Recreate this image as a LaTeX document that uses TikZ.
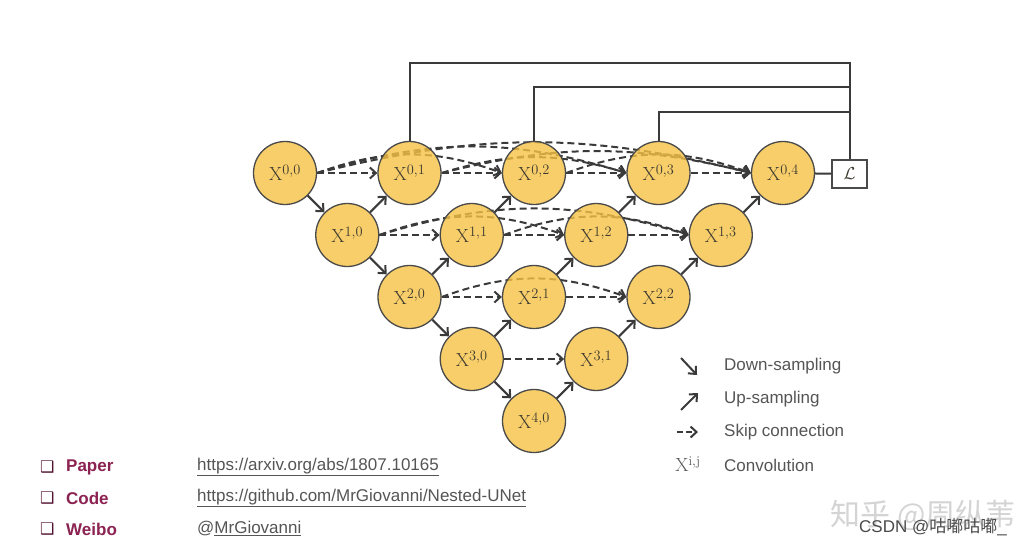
\documentclass[tikz,border=0pt]{standalone}
\usepackage{fontspec}
\newfontfamily\arial{Liberation Sans}
\newfontfamily\cjk{Noto Sans CJK SC}
\newfontfamily\dejavu{DejaVu Sans}
\usetikzlibrary{arrows.meta}
\pgfdeclarelayer{bg}
\pgfsetlayers{bg,main}
\definecolor{nodefill}{HTML}{F6C244}
\definecolor{nodeborder}{HTML}{4A4A4A}
\definecolor{linec}{HTML}{3A3A3A}
\definecolor{labelc}{HTML}{3E3A30}
\definecolor{legc}{HTML}{555555}
\definecolor{maroon}{HTML}{8B2252}
\definecolor{wmlight}{HTML}{D4D4D4}
\definecolor{wmdark}{HTML}{4A4A4A}
\tikzset{
  conv/.style={circle, draw=nodeborder, line width=1.3pt, fill=nodefill, fill opacity=0.8,
    text opacity=1, minimum size=63pt, inner sep=0pt, text=labelc, font=\fontsize{19}{21}\selectfont},
  arr/.style={draw=linec, line width=2pt, -{Straight Barb[length=6pt,width=11pt]}},
  skipc/.style={arr, dash pattern=on 7pt off 4pt},
  plain/.style={draw=linec, line width=2pt},
  lossbox/.style={draw=nodeborder, fill=white, line width=1.3pt, minimum width=35pt, minimum height=28pt, inner sep=0pt, font=\fontsize{17}{19}\selectfont, text=labelc},
  leg/.style={anchor=west, inner sep=0pt, text=legc, font=\arial\fontsize{17}{20}\selectfont},
  lbl/.style={anchor=west, inner sep=0pt, text=maroon, font=\arial\bfseries\fontsize{17}{20}\selectfont},
  url/.style={anchor=west, inner sep=0pt, text=legc, font=\arial\fontsize{17}{20}\selectfont},
  bul/.style={anchor=west, inner sep=0pt, text=maroon!60!black, font=\dejavu\fontsize{16}{18}\selectfont}
}
\begin{document}
\begin{tikzpicture}[x=1pt,y=-1pt]
\begin{pgfonlayer}{bg}
\fill[white] (0,0) rectangle (1032,547);
\end{pgfonlayer}
\useasboundingbox (0,0) rectangle (1032,547);

% nodes
\node[conv] (X00) at (285,173) {$\mathrm{X}^{0,0}$};
\node[conv] (X01) at (409.5,173) {$\mathrm{X}^{0,1}$};
\node[conv] (X02) at (534,173) {$\mathrm{X}^{0,2}$};
\node[conv] (X03) at (658.5,173) {$\mathrm{X}^{0,3}$};
\node[conv] (X04) at (783,173) {$\mathrm{X}^{0,4}$};
\node[conv] (X10) at (347.25,235) {$\mathrm{X}^{1,0}$};
\node[conv] (X11) at (471.75,235) {$\mathrm{X}^{1,1}$};
\node[conv] (X12) at (596.25,235) {$\mathrm{X}^{1,2}$};
\node[conv] (X13) at (720.75,235) {$\mathrm{X}^{1,3}$};
\node[conv] (X20) at (409.5,297) {$\mathrm{X}^{2,0}$};
\node[conv] (X21) at (534,297) {$\mathrm{X}^{2,1}$};
\node[conv] (X22) at (658.5,297) {$\mathrm{X}^{2,2}$};
\node[conv] (X30) at (471.75,359) {$\mathrm{X}^{3,0}$};
\node[conv] (X31) at (596.25,359) {$\mathrm{X}^{3,1}$};
\node[conv] (X40) at (534,421) {$\mathrm{X}^{4,0}$};

\node[lossbox] (L) at (849.5,174) {$\mathcal{L}$};

% long skip arcs behind nodes
\begin{pgfonlayer}{bg}
\foreach \r/\a/\b/\o/\n in {0/0/2/20/160, 0/0/3/17/163, 0/0/4/14/166, 0/1/3/17/163, 0/1/4/14/166, 0/2/4/20/160,
                             1/0/2/20/160, 1/0/3/17/163, 1/1/3/20/160,
                             2/0/2/20/160}{
  \draw[skipc] (X\r\a.east) to[out=\o, in=\n] (X\r\b.west);
}
\end{pgfonlayer}

% short skip connections
\foreach \r/\a/\b in {0/0/1,0/1/2,0/2/3,0/3/4,1/0/1,1/1/2,1/2/3,2/0/1,2/1/2,3/0/1}{
  \draw[skipc] (X\r\a) -- (X\r\b);
}

% down-sampling
\draw[arr] (X00) -- (X10);
\draw[arr] (X10) -- (X20);
\draw[arr] (X20) -- (X30);
\draw[arr] (X30) -- (X40);
% up-sampling
\draw[arr] (X10) -- (X01);
\draw[arr] (X20) -- (X11);
\draw[arr] (X11) -- (X02);
\draw[arr] (X30) -- (X21);
\draw[arr] (X21) -- (X12);
\draw[arr] (X12) -- (X03);
\draw[arr] (X40) -- (X31);
\draw[arr] (X31) -- (X22);
\draw[arr] (X22) -- (X13);
\draw[arr] (X13) -- (X04);

% deep supervision lines
\coordinate (t1) at (849.5,63);
\coordinate (t2) at (849.5,87);
\coordinate (t3) at (849.5,112);
\draw[plain] (X01.north) |- (t1) -- (L.north);
\draw[plain] (X02.north) |- (t2);
\draw[plain] (X03.north) |- (t3);
\draw[plain] (X04) -- (L);

% legend
\coordinate (d1) at (681,358); \coordinate (d2) at (697,375);
\coordinate (u1) at (681,410); \coordinate (u2) at (698,393);
\coordinate (s1) at (677,432); \coordinate (s2) at (698,432);
\draw[arr] (d1) -- (d2);
\draw[arr] (u1) -- (u2);
\draw[arr, dash pattern=on 6pt off 3pt] (s1) -- (s2);
\node[inner sep=0pt, text=legc, font=\fontsize{19}{21}\selectfont] (lx) at (688,464) {$\mathrm{X}^{\mathrm{i,j}}$};
\node[leg] (ld) at (724,366) {Down-sampling};
\node[leg] (lu) at (724,399) {Up-sampling};
\node[leg] (ls) at (724,432) {Skip connection};
\node[leg] (lc) at (724,465) {Convolution};

% bottom links
\node[bul] (b1) at (40,467) {❑};
\node[bul] (b2) at (40,498) {❑};
\node[bul] (b3) at (40,529) {❑};
\node[lbl] (p) at (66,467) {Paper};
\node[lbl] (c) at (66,498) {Code};
\node[lbl] (w) at (66,529) {Weibo};
\node[url] (pu) at (197,467) {\underline{https://arxiv.org/abs/1807.10165}};
\node[url] (cu) at (197,498) {\underline{https://github.com/MrGiovanni/Nested-UNet}};
\node[url] (wu) at (197,529) {@\underline{MrGiovanni}};

% watermarks
\node[inner sep=0pt, text=wmlight, font=\cjk\fontsize{30}{32}\selectfont] (wm1) at (923,515) {知乎 @周纵苇};
\node[inner sep=0pt, text=wmdark, font=\arial\fontsize{17}{20}\selectfont] (wm2) at (933,527) {CSDN @{\cjk 咕嘟咕嘟}\_};
\end{tikzpicture}
\end{document}
